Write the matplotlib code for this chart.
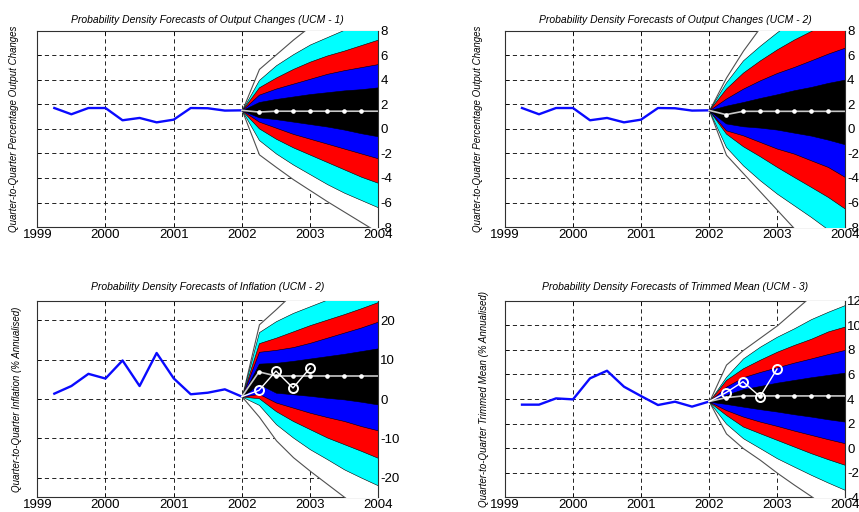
import matplotlib
matplotlib.use("Agg")
import matplotlib.pyplot as plt

plt.rcParams["font.family"] = ["Liberation Sans", "DejaVu Sans"]
plt.rcParams["axes.unicode_minus"] = False
plt.rcParams["lines.scale_dashes"] = False

# quarters
hist_x = [1999.25, 1999.5, 1999.75, 2000.0, 2000.25, 2000.5, 2000.75,
          2001.0, 2001.25, 2001.5, 2001.75, 2002.0]
fc_x = [2002.0, 2002.25, 2002.5, 2002.75, 2003.0, 2003.25, 2003.5, 2003.75, 2004.0]
outturn_x = [2002.0, 2002.25, 2002.5, 2002.75, 2003.0]

# history
output_hist = [1.71, 1.2, 1.71, 1.71, 0.71, 0.9, 0.54, 0.76, 1.71, 1.69, 1.5, 1.52]
inflation_hist = [1.36, 3.3, 6.4, 5.2, 9.8, 3.3, 11.7, 5.25, 1.2, 1.6, 2.46, 0.6]
trimmed_hist = [3.54, 3.54, 4.05, 3.97, 5.68, 6.3, 5.0, 4.24, 3.51, 3.78, 3.38, 3.79]

# fan edges, rows: outer, cyan, red, blue, black
ucm1_median = [1.52, 1.38, 1.45, 1.45, 1.45, 1.45, 1.45, 1.45, 1.45]
ucm1_upper = [[1.52, 4.9, 6.1, 7.3, 8.4, 9.4, 10.3, 11.2, 12.0],
              [1.52, 4.0, 5.2, 6.1, 6.9, 7.5, 8.1, 8.6, 9.1],
              [1.52, 3.4, 4.2, 4.9, 5.5, 6.0, 6.4, 6.85, 7.3],
              [1.52, 2.8, 3.3, 3.7, 4.1, 4.5, 4.8, 5.05, 5.3],
              [1.52, 2.2, 2.45, 2.65, 2.85, 3.0, 3.15, 3.25, 3.4]]
ucm1_lower = [[1.52, -2.07, -3.1, -4.1, -5.0, -5.9, -6.75, -7.6, -8.45],
              [1.52, -0.9, -2.0, -2.9, -3.7, -4.5, -5.2, -5.8, -6.4],
              [1.52, 0.05, -0.8, -1.5, -2.1, -2.7, -3.3, -3.9, -4.4],
              [1.52, 0.6, 0.1, -0.4, -0.8, -1.2, -1.6, -2.0, -2.4],
              [1.52, 0.95, 0.8, 0.6, 0.4, 0.2, -0.05, -0.35, -0.6]]

ucm2_median = [1.52, 1.17, 1.44, 1.44, 1.44, 1.44, 1.44, 1.44, 1.44]
ucm2_upper = [[1.52, 4.2, 6.4, 8.3, 10.0, 11.5, 13.0, 14.4, 15.8],
              [1.52, 3.8, 5.6, 6.8, 7.9, 8.9, 9.8, 10.8, 11.8],
              [1.52, 3.3, 4.6, 5.6, 6.5, 7.3, 8.0, 8.7, 9.4],
              [1.52, 2.48, 3.29, 3.97, 4.57, 5.06, 5.6, 6.15, 6.64],
              [1.52, 1.9, 2.2, 2.53, 2.83, 3.16, 3.43, 3.76, 4.03]]
ucm2_lower = [[1.52, -2.1, -3.6, -5.1, -6.6, -8.1, -9.6, -11.0, -12.4],
              [1.52, -1.47, -2.97, -4.19, -5.28, -6.23, -7.18, -8.2, -9.2],
              [1.52, -0.38, -1.41, -2.23, -3.1, -3.92, -4.73, -5.55, -6.5],
              [1.52, -0.11, -0.52, -1.06, -1.6, -2.01, -2.56, -3.1, -3.92],
              [1.52, 0.45, 0.22, 0.11, -0.05, -0.3, -0.54, -0.87, -1.25]]

infl_median = [0.6, 6.9, 5.85, 5.85, 5.85, 5.85, 5.85, 5.85, 5.85]
infl_upper = [[0.6, 19.0, 22.9, 27.0, 30.0, 32.5, 35.0, 37.0, 39.0],
              [0.6, 17.0, 19.8, 21.9, 23.6, 25.3, 27.0, 28.5, 30.0],
              [0.6, 14.2, 15.6, 17.2, 18.8, 20.2, 21.6, 23.1, 24.7],
              [0.6, 12.0, 12.5, 13.2, 14.3, 15.6, 16.9, 18.2, 19.7],
              [0.6, 9.0, 9.2, 9.7, 10.3, 10.9, 11.5, 12.2, 12.9]]
infl_lower = [[0.6, -4.5, -10.5, -14.8, -18.3, -21.6, -24.9, -28.0, -31.0],
              [0.6, -1.5, -6.4, -9.8, -12.8, -15.3, -17.9, -20.0, -22.0],
              [0.6, 0.2, -3.1, -5.6, -7.7, -9.8, -11.5, -13.2, -15.0],
              [0.6, 1.3, -0.9, -2.2, -3.5, -4.6, -5.6, -6.9, -8.0],
              [0.6, 3.8, 1.6, 1.2, 0.8, 0.3, -0.1, -0.7, -1.4]]
infl_outturn = [0.6, 2.2, 7.1, 2.8, 7.9]

trim_median = [3.79, 4.11, 4.25, 4.25, 4.25, 4.25, 4.25, 4.25, 4.25]
trim_upper = [[3.79, 6.8, 8.0, 9.0, 10.0, 11.2, 12.4, 13.1, 13.8],
              [3.79, 5.8, 7.3, 8.26, 9.07, 9.75, 10.5, 11.1, 11.65],
              [3.79, 5.55, 6.5, 7.2, 7.85, 8.4, 8.9, 9.5, 9.9],
              [3.79, 5.0, 5.77, 6.2, 6.58, 6.96, 7.3, 7.66, 8.0],
              [3.79, 4.33, 4.8, 5.06, 5.33, 5.55, 5.77, 5.96, 6.15]]
trim_lower = [[3.79, 1.2, 0.0, -0.95, -2.0, -2.97, -3.9, -4.9, -5.8],
              [3.79, 2.0, 0.81, 0.0, -0.82, -1.5, -2.17, -2.8, -3.4],
              [3.79, 2.7, 1.76, 1.21, 0.67, 0.13, -0.41, -0.9, -1.36],
              [3.79, 3.1, 2.57, 2.16, 1.81, 1.43, 1.08, 0.73, 0.4],
              [3.79, 3.6, 3.38, 3.17, 2.98, 2.76, 2.57, 2.35, 2.16]]
trim_outturn = [3.79, 4.52, 5.41, 4.2, 6.44]

band_colors = ["white", "#00ffff", "#ff0000", "#0000ff", "black"]
year_ticks = [1999, 2000, 2001, 2002, 2003, 2004]


def draw_panel(ax, hist, upper, lower, median, outturn, ylim, yticks, title, ylabel,
               title_pad, label_x):
    ax.set_axisbelow(True)
    ax.grid(True, color="black", linestyle=(0, (3, 2.3)), linewidth=0.6)

    ax.plot(hist_x, hist, color="#0a0aff", lw=1.7, zorder=3)

    for i, (up, lo) in enumerate(zip(upper, lower)):
        if i == 0:
            ax.fill_between(fc_x, lo, up, facecolor="white", edgecolor="#505050",
                            linewidth=0.8, zorder=4)
        else:
            ax.fill_between(fc_x, lo, up, facecolor=band_colors[i], edgecolor="black",
                            linewidth=0.4, zorder=4 + i)

    ax.plot(fc_x, median, color="#c8c8c8", lw=1.2, zorder=10)
    ax.plot(fc_x[1:-1], median[1:-1], "o", ms=2.3, mfc="white", mec="white", zorder=11)

    if outturn is not None:
        ax.plot(outturn_x, outturn, color="white", lw=1.0, zorder=12)
        ax.plot(outturn_x[1:], outturn[1:], "o", ms=6.5, mfc="none", mec="white",
                mew=1.4, zorder=12)

    ax.set_xlim(1999, 2004)
    ax.set_ylim(*ylim)
    ax.set_xticks(year_ticks)
    ax.set_yticks(yticks)
    ax.yaxis.tick_right()
    ax.tick_params(axis="both", direction="in", length=3, width=0.5,
                   labelsize=9.5, colors="black")
    ax.tick_params(axis="x", pad=1.5, top=True)
    ax.tick_params(axis="y", pad=1.5, left=True)
    for sp in ax.spines.values():
        sp.set_color("#303030")
        sp.set_linewidth(0.8)
    ax.spines["right"].set_zorder(20)

    ax.set_title(title, fontsize=7.5, style="italic", pad=title_pad)
    ax.yaxis.set_label_position("left")
    ax.set_ylabel(ylabel, fontsize=7, style="italic")
    ax.yaxis.set_label_coords(label_x, 0.5)


fig = plt.figure(figsize=(8.59, 5.12), dpi=100)
ax1 = fig.add_axes([0.0434, 0.5566, 0.397, 0.383])
ax2 = fig.add_axes([0.5879, 0.5566, 0.3958, 0.383])
ax3 = fig.add_axes([0.0434, 0.0287, 0.397, 0.384])
ax4 = fig.add_axes([0.5879, 0.0287, 0.3958, 0.384])

draw_panel(ax1, output_hist, ucm1_upper, ucm1_lower, ucm1_median, None,
           (-8, 8), list(range(-8, 9, 2)),
           "Probability Density Forecasts of Output Changes (UCM - 1)",
           "Quarter-to-Quarter Percentage Output Changes", 5.5, -0.053)
draw_panel(ax2, output_hist, ucm2_upper, ucm2_lower, ucm2_median, None,
           (-8, 8), list(range(-8, 9, 2)),
           "Probability Density Forecasts of Output Changes (UCM - 2)",
           "Quarter-to-Quarter Percentage Output Changes", 5.5, -0.065)
draw_panel(ax3, inflation_hist, infl_upper, infl_lower, infl_median, infl_outturn,
           (-25, 25), [-20, -10, 0, 10, 20],
           "Probability Density Forecasts of Inflation (UCM - 2)",
           "Quarter-to-Quarter Inflation (% Annualised)", 8, -0.044)
draw_panel(ax4, trimmed_hist, trim_upper, trim_lower, trim_median, trim_outturn,
           (-4, 12), list(range(-4, 13, 2)),
           "Probability Density Forecasts of Trimmed Mean (UCM - 3)",
           "Quarter-to-Quarter Trimmed Mean (% Annualised)", 8, -0.047)

fig.savefig("out.png", dpi=100)
